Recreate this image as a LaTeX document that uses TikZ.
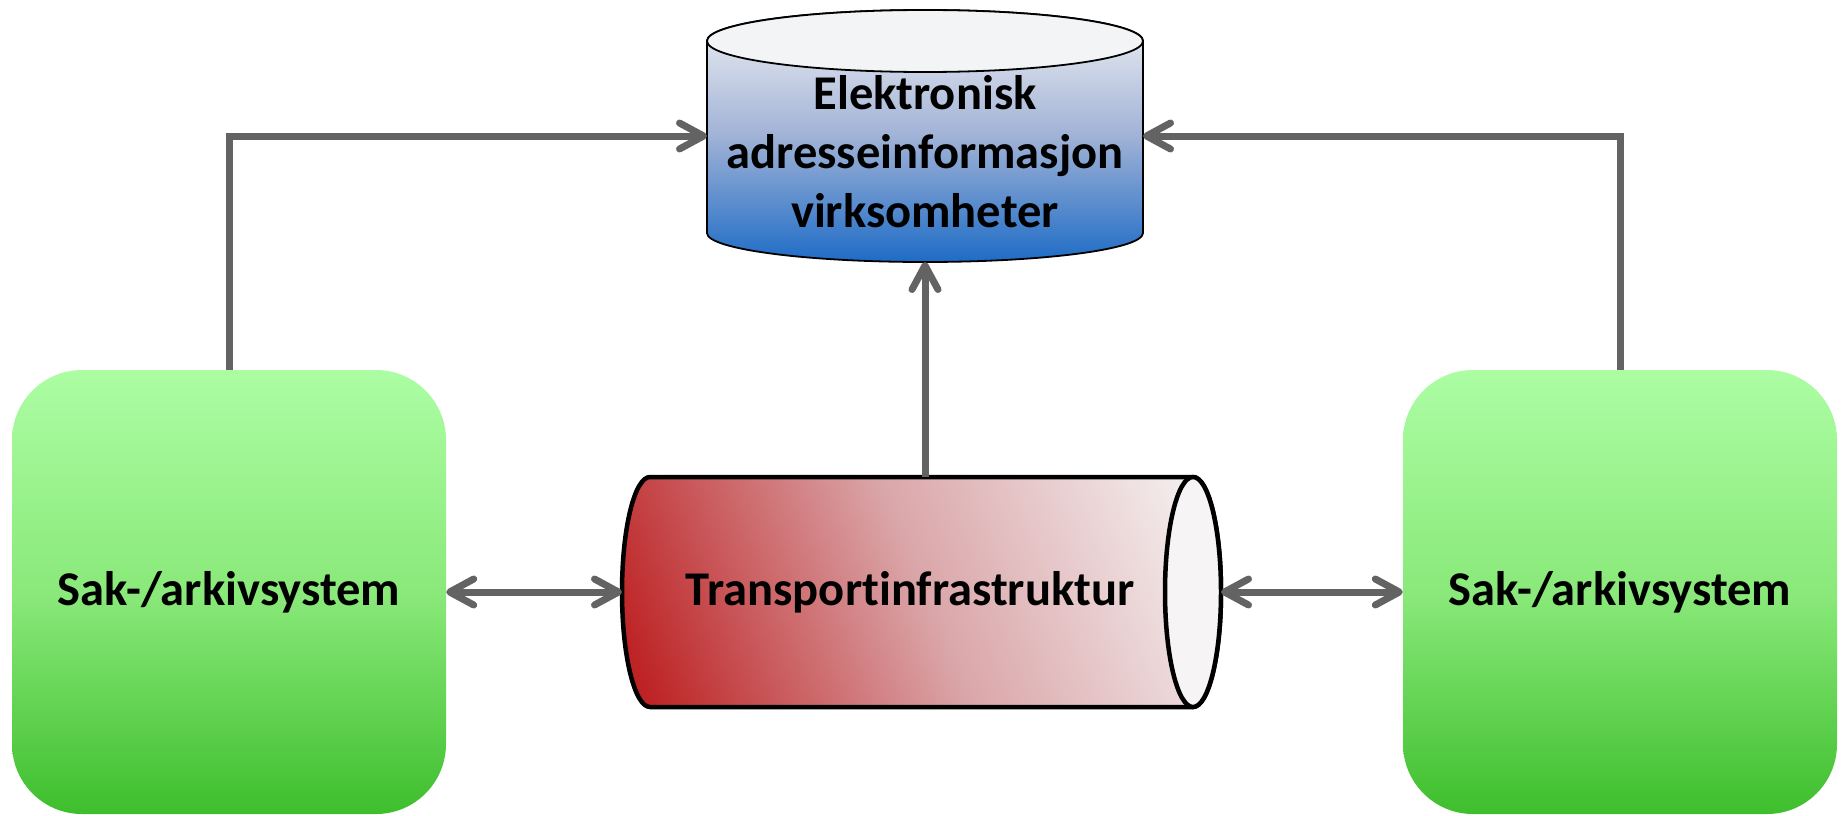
\documentclass[tikz,border=0pt]{standalone}
\usepackage{fontspec}
\setmainfont{Carlito}[Ligatures=NoCommon]
\usetikzlibrary{arrows.meta}
\definecolor{arrowgray}{RGB}{99,99,99}
\definecolor{gtop}{RGB}{172,253,163}
\definecolor{gmid}{RGB}{138,233,122}
\definecolor{gbot}{RGB}{62,190,45}
\definecolor{dbtop}{RGB}{242,242,244}
\definecolor{dbmid}{RGB}{160,178,214}
\definecolor{dbbot}{RGB}{30,108,198}
\definecolor{dbcap}{RGB}{243,244,246}
\definecolor{trleft}{RGB}{188,28,30}
\definecolor{trmid}{RGB}{218,165,168}
\definecolor{trright}{RGB}{246,244,244}
\begin{document}
\begin{tikzpicture}[x=1pt,y=-1pt,
  lbl/.style={font=\fontsize{48.5}{59}\selectfont\bfseries, text=black},
  greenbox/.style={lbl, rounded corners=70pt, minimum width=434pt, minimum height=444pt,
    top color=gtop, bottom color=gbot, middle color=gmid, draw=none, inner sep=0pt},
  anchorbox/.style={inner sep=0pt, outer sep=0pt, draw=none},
  tipa/.tip={Straight Barb[length=24pt,width=26pt,round]},
  conn/.style={draw=arrowgray, line width=7pt, -tipa},
  dconn/.style={draw=arrowgray, line width=7pt, tipa-tipa},
]
\useasboundingbox (0,0) rectangle (1841,816);

% Sak-/arkivsystem boxes
\node[greenbox] (lbox) at (229,592) {Sak-/arkivsystem};
\node[greenbox] (rbox) at (1620,592) {Sak-/arkivsystem};

% Database cylinder
\shade[top color=dbtop, bottom color=dbbot, middle color=dbmid, draw=black, line width=1.8pt]
  (707,41) -- (707,233) arc[start angle=180, end angle=360, x radius=218pt, y radius=29pt]
  -- (1143,41) arc[start angle=0, end angle=180, x radius=218pt, y radius=31pt] -- cycle;
\draw[fill=dbcap, line width=1.8pt] (925,41) ellipse [x radius=218pt, y radius=31pt];
\node[anchorbox, minimum width=436pt, minimum height=252pt] (db) at (925,136) {};
\node[lbl, align=center] (dbtext) at (925,152) {Elektronisk\\adresseinformasjon\\virksomheter};

% Transport cylinder
\begin{scope}
  \clip (650,477) -- (1193,477) arc[start angle=90, end angle=-90, x radius=28pt, y radius=115pt]
    -- (650,707) arc[start angle=270, end angle=90, x radius=28pt, y radius=115pt] -- cycle;
  \shade[left color=trleft, right color=trright, middle color=trmid, shading angle=112]
    (612,282) rectangle (1232,902);
\end{scope}
\draw[line width=4.5pt, line join=round]
  (650,477) -- (1193,477) arc[start angle=90, end angle=-90, x radius=28pt, y radius=115pt]
  -- (650,707) arc[start angle=270, end angle=90, x radius=28pt, y radius=115pt] -- cycle;
\draw[fill=trright, line width=4.5pt] (1193,592) ellipse [x radius=28pt, y radius=115pt];
\node[anchorbox, minimum width=599pt, minimum height=230pt] (tr) at (921.5,592) {};
\node[lbl] (trtext) at (910,592) {Transportinfrastruktur};

% Connectors
\draw[conn] (lbox.north) |- (db.west);
\draw[conn] (rbox.north) |- (db.east);
\draw[conn] (tr.north -| db.south) -- (db.south);
\draw[dconn] (lbox.east) -- (tr.west);
\draw[dconn] (tr.east) -- (rbox.west);
\end{tikzpicture}
\end{document}
